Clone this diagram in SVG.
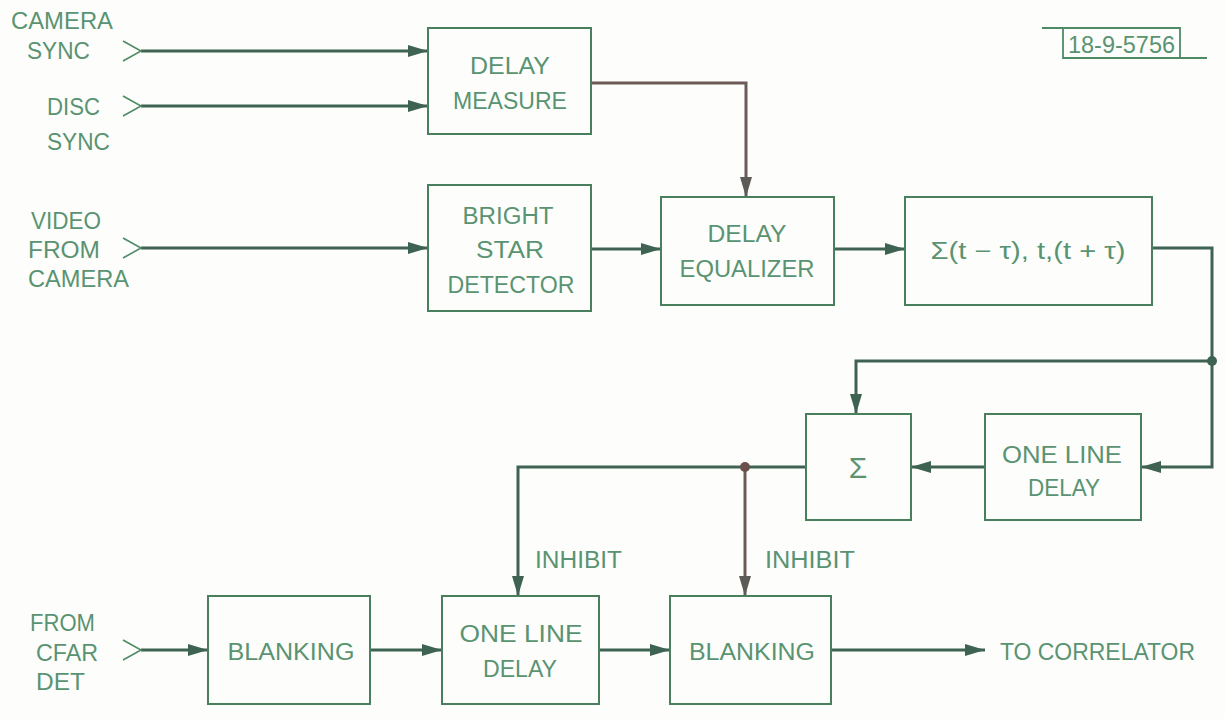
<svg xmlns="http://www.w3.org/2000/svg" width="1225" height="719" viewBox="0 0 1225 719">
<style>
.bg{fill:#fdfefb}
.box{fill:none;stroke:#4a7f5e;stroke-width:2}
.ln{fill:none;stroke:#3f6352;stroke-width:3}
.br{fill:none;stroke:#6b5a56;stroke-width:3}
.chev{fill:none;stroke:#4f8a66;stroke-width:1.6}
text{font-family:"Liberation Sans","DejaVu Sans",sans-serif;font-size:23px;fill:#5a9372}
.c{text-anchor:middle}
.tag{fill:none;stroke:#4f8a66;stroke-width:1.8}
</style>
<defs>
<marker id="ah" viewBox="0 0 20 12" refX="20" refY="6" markerWidth="20" markerHeight="12" markerUnits="userSpaceOnUse" orient="auto">
<path d="M0,0 L20,6 L0,12 z" fill="#3f6352"/>
</marker>
<marker id="ahb" viewBox="0 0 20 12" refX="20" refY="6" markerWidth="20" markerHeight="12" markerUnits="userSpaceOnUse" orient="auto">
<path d="M0,0 L20,6 L0,12 z" fill="#5e5a55"/>
</marker>
</defs>
<rect class="bg" x="0" y="0" width="1225" height="719"/>

<g id="connectors">
<path class="ln" d="M141,51 H428" marker-end="url(#ah)"/>
<path class="ln" d="M141,106 H428" marker-end="url(#ah)"/>
<path class="ln" d="M141,248 H428" marker-end="url(#ah)"/>
<path class="br" d="M591,83 H746 V197" marker-end="url(#ahb)"/>
<path class="ln" d="M591,249 H661" marker-end="url(#ah)"/>
<path class="ln" d="M834,249 H905" marker-end="url(#ah)"/>
<path class="ln" d="M1152,248 H1212 V467 H1141" marker-end="url(#ah)"/>
<path class="ln" d="M1212,361 H856 V414" marker-end="url(#ah)"/>
<circle cx="1212" cy="361" r="5" fill="#3f6352"/>
<path class="ln" d="M985,467 H911" marker-end="url(#ah)"/>
<path class="ln" d="M806,467 H518 V596" marker-end="url(#ah)"/>
<path class="br" d="M745,467 V596" marker-end="url(#ahb)"/>
<circle cx="745" cy="467" r="5" fill="#6b4f4c"/>
<path class="ln" d="M141,650 H208" marker-end="url(#ah)"/>
<path class="ln" d="M370,650 H442" marker-end="url(#ah)"/>
<path class="ln" d="M599,650 H670" marker-end="url(#ah)"/>
<path class="ln" d="M831,650 H985" marker-end="url(#ah)"/>
</g>

<g id="in-camera-sync">
<polyline class="chev" points="123,41 141,51 123,61"/>
<text x="11" y="29" textLength="102" lengthAdjust="spacingAndGlyphs">CAMERA</text>
<text x="27" y="59" textLength="63" lengthAdjust="spacingAndGlyphs">SYNC</text>
</g>
<g id="in-disc-sync">
<polyline class="chev" points="123,96 141,106 123,116"/>
<text x="47" y="115" textLength="53" lengthAdjust="spacingAndGlyphs">DISC</text>
<text x="47" y="150" textLength="63" lengthAdjust="spacingAndGlyphs">SYNC</text>
</g>
<g id="in-video">
<polyline class="chev" points="123,238 141,248 123,258"/>
<text x="31" y="229" textLength="70" lengthAdjust="spacingAndGlyphs">VIDEO</text>
<text x="28" y="258" textLength="72" lengthAdjust="spacingAndGlyphs">FROM</text>
<text x="28" y="287" textLength="101" lengthAdjust="spacingAndGlyphs">CAMERA</text>
</g>
<g id="in-cfar">
<polyline class="chev" points="123,640 141,650 123,660"/>
<text x="30" y="631" textLength="65" lengthAdjust="spacingAndGlyphs">FROM</text>
<text x="36" y="661" textLength="62" lengthAdjust="spacingAndGlyphs">CFAR</text>
<text x="36" y="690" textLength="49" lengthAdjust="spacingAndGlyphs">DET</text>
</g>

<g id="delay-measure">
<rect class="box" x="428" y="28" width="163" height="106"/>
<text class="c" x="510" y="74" textLength="80" lengthAdjust="spacingAndGlyphs">DELAY</text>
<text class="c" x="510" y="109" textLength="114" lengthAdjust="spacingAndGlyphs">MEASURE</text>
</g>
<g id="bright-star">
<rect class="box" x="428" y="185" width="163" height="126"/>
<text class="c" x="508" y="224" textLength="91" lengthAdjust="spacingAndGlyphs">BRIGHT</text>
<text class="c" x="510" y="258" textLength="68" lengthAdjust="spacingAndGlyphs">STAR</text>
<text class="c" x="511" y="293" textLength="127" lengthAdjust="spacingAndGlyphs">DETECTOR</text>
</g>
<g id="delay-equalizer">
<rect class="box" x="661" y="197" width="173" height="108"/>
<text class="c" x="747" y="242" textLength="79" lengthAdjust="spacingAndGlyphs">DELAY</text>
<text class="c" x="747" y="277" textLength="135" lengthAdjust="spacingAndGlyphs">EQUALIZER</text>
</g>
<g id="sum-window">
<rect class="box" x="905" y="197" width="247" height="108"/>
<text class="c" x="1028" y="259" textLength="195" lengthAdjust="spacingAndGlyphs">Σ(t − τ), t,(t + τ)</text>
</g>
<g id="sum">
<rect class="box" x="806" y="414" width="105" height="106"/>
<text class="c" x="858" y="478" style="font-size:30px">Σ</text>
</g>
<g id="one-line-delay-1">
<rect class="box" x="985" y="414" width="156" height="106"/>
<text class="c" x="1062" y="463" textLength="120" lengthAdjust="spacingAndGlyphs">ONE LINE</text>
<text class="c" x="1064" y="496" textLength="72" lengthAdjust="spacingAndGlyphs">DELAY</text>
</g>
<g id="blanking-1">
<rect class="box" x="208" y="596" width="162" height="108"/>
<text class="c" x="291" y="660" textLength="127" lengthAdjust="spacingAndGlyphs">BLANKING</text>
</g>
<g id="one-line-delay-2">
<rect class="box" x="442" y="596" width="157" height="108"/>
<text class="c" x="521" y="642" textLength="123" lengthAdjust="spacingAndGlyphs">ONE LINE</text>
<text class="c" x="520" y="677" textLength="74" lengthAdjust="spacingAndGlyphs">DELAY</text>
</g>
<g id="blanking-2">
<rect class="box" x="670" y="596" width="161" height="108"/>
<text class="c" x="752" y="660" textLength="126" lengthAdjust="spacingAndGlyphs">BLANKING</text>
</g>
<g id="labels">
<text x="535" y="568" textLength="87" lengthAdjust="spacingAndGlyphs">INHIBIT</text>
<text x="765" y="568" textLength="90" lengthAdjust="spacingAndGlyphs">INHIBIT</text>
<text x="1000" y="660" textLength="195" lengthAdjust="spacingAndGlyphs">TO CORRELATOR</text>
</g>
<g id="tag">
<path class="tag" d="M1042,28 H1180 V58 H1207 M1063,28 V58 H1180"/>
<text x="1068" y="53" style="font-size:24px" textLength="107" lengthAdjust="spacingAndGlyphs">18-9-5756</text>
</g>
</svg>
